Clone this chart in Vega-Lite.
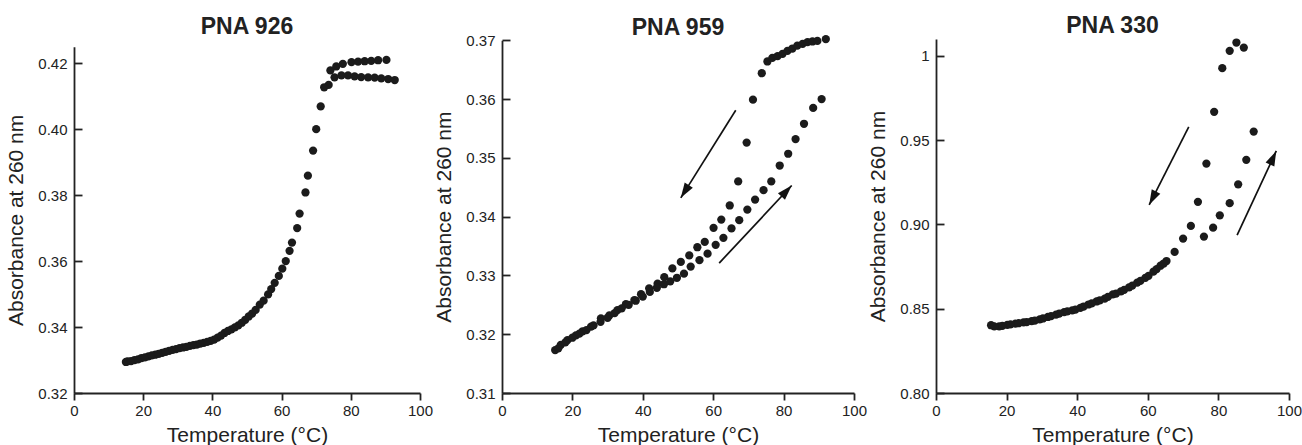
{
  "$schema": "https://vega.github.io/schema/vega-lite/v6.json",
  "background": "white",
  "padding": {"left": 5, "top": 15, "right": 5, "bottom": 5},
  "spacing": 0,
  "config": {
    "view": {"stroke": null},
    "font": "Liberation Sans",
    "style": {"guide-label": {"fontSize": 15, "font": "Liberation Sans", "fill": "#222"}},
    "axis": {
      "grid": false,
      "domainColor": "#222",
      "domainWidth": 1.8,
      "tickColor": "#222",
      "tickWidth": 1.8,
      "labelFont": "Liberation Sans",
      "labelFontSize": 15,
      "labelColor": "#222",
      "titleFont": "Liberation Sans",
      "titleFontSize": 21,
      "titleFontWeight": "normal",
      "titleColor": "#222"
    },
    "axisX": {"tickSize": 7, "labelPadding": 3, "titlePadding": 6, "labelFlush": false, "labelFontSize": 15},
    "axisY": {"tickSize": -8, "labelPadding": 15, "titlePadding": 11, "labelFontSize": 15},
    "title": {"font": "Liberation Sans", "fontSize": 23, "fontWeight": "bold", "color": "#222", "frame": "group", "baseline": "alphabetic", "dy": 8}
  },
  "datasets": {
    "p926": [
      {"T": 15.5, "A": 0.3296, "run": "a"}, {"T": 17.5, "A": 0.3300, "run": "a"}, {"T": 19.5, "A": 0.3306, "run": "a"},
      {"T": 21.5, "A": 0.3311, "run": "a"}, {"T": 23.5, "A": 0.3316, "run": "a"}, {"T": 25.5, "A": 0.3322, "run": "a"},
      {"T": 27.5, "A": 0.3328, "run": "a"}, {"T": 29.5, "A": 0.3333, "run": "a"}, {"T": 31.5, "A": 0.3338, "run": "a"},
      {"T": 33.5, "A": 0.3343, "run": "a"}, {"T": 35.5, "A": 0.3347, "run": "a"}, {"T": 37.5, "A": 0.3352, "run": "a"},
      {"T": 39.5, "A": 0.3358, "run": "a"}, {"T": 41.5, "A": 0.3368, "run": "a"}, {"T": 43.5, "A": 0.3382, "run": "a"},
      {"T": 45.5, "A": 0.3393, "run": "a"}, {"T": 47.5, "A": 0.3405, "run": "a"}, {"T": 49.5, "A": 0.3422, "run": "a"},
      {"T": 51.5, "A": 0.3441, "run": "a"}, {"T": 53.7, "A": 0.3468, "run": "a"}, {"T": 56.1, "A": 0.3499, "run": "a"},
      {"T": 58.0, "A": 0.3534, "run": "a"}, {"T": 60.2, "A": 0.3577, "run": "a"}, {"T": 62.3, "A": 0.3631, "run": "a"},
      {"T": 64.5, "A": 0.3700, "run": "a"}, {"T": 66.9, "A": 0.3808, "run": "a"}, {"T": 69.1, "A": 0.3935, "run": "a"},
      {"T": 71.3, "A": 0.4069, "run": "a"}, {"T": 73.6, "A": 0.4134, "run": "a"}, {"T": 75.3, "A": 0.4157, "run": "a"},
      {"T": 77.3, "A": 0.4163, "run": "a"}, {"T": 79.2, "A": 0.4163, "run": "a"}, {"T": 81.1, "A": 0.4160, "run": "a"},
      {"T": 83.0, "A": 0.4158, "run": "a"}, {"T": 85.0, "A": 0.4157, "run": "a"}, {"T": 86.9, "A": 0.4156, "run": "a"},
      {"T": 88.8, "A": 0.4154, "run": "a"}, {"T": 90.8, "A": 0.4152, "run": "a"}, {"T": 92.7, "A": 0.4149, "run": "a"},
      {"T": 15.0, "A": 0.3294, "run": "b"}, {"T": 16.5, "A": 0.3297, "run": "b"}, {"T": 18.5, "A": 0.3302, "run": "b"},
      {"T": 20.5, "A": 0.3308, "run": "b"}, {"T": 22.5, "A": 0.3314, "run": "b"}, {"T": 24.5, "A": 0.3319, "run": "b"},
      {"T": 26.5, "A": 0.3325, "run": "b"}, {"T": 28.5, "A": 0.3331, "run": "b"}, {"T": 30.5, "A": 0.3336, "run": "b"},
      {"T": 32.5, "A": 0.3340, "run": "b"}, {"T": 34.5, "A": 0.3345, "run": "b"}, {"T": 36.5, "A": 0.3350, "run": "b"},
      {"T": 38.5, "A": 0.3355, "run": "b"}, {"T": 40.5, "A": 0.3362, "run": "b"}, {"T": 42.5, "A": 0.3374, "run": "b"},
      {"T": 44.5, "A": 0.3388, "run": "b"}, {"T": 46.5, "A": 0.3399, "run": "b"}, {"T": 48.5, "A": 0.3413, "run": "b"},
      {"T": 50.5, "A": 0.3432, "run": "b"}, {"T": 52.5, "A": 0.3452, "run": "b"}, {"T": 54.8, "A": 0.3480, "run": "b"},
      {"T": 57.0, "A": 0.3515, "run": "b"}, {"T": 59.2, "A": 0.3555, "run": "b"}, {"T": 61.2, "A": 0.3600, "run": "b"},
      {"T": 63.0, "A": 0.3656, "run": "b"}, {"T": 65.2, "A": 0.3744, "run": "b"}, {"T": 67.6, "A": 0.3859, "run": "b"},
      {"T": 70.0, "A": 0.4000, "run": "b"}, {"T": 72.3, "A": 0.4127, "run": "b"}, {"T": 74.1, "A": 0.4178, "run": "b"},
      {"T": 75.8, "A": 0.4190, "run": "b"}, {"T": 77.7, "A": 0.4198, "run": "b"}, {"T": 80.2, "A": 0.4203, "run": "b"},
      {"T": 82.1, "A": 0.4205, "run": "b"}, {"T": 84.0, "A": 0.4206, "run": "b"}, {"T": 85.9, "A": 0.4207, "run": "b"},
      {"T": 87.9, "A": 0.4209, "run": "b"}, {"T": 90.3, "A": 0.4210, "run": "b"}
    ],
    "p959": [
      {"T": 15.1, "A": 0.3173, "run": "cool"}, {"T": 16.7, "A": 0.3182, "run": "cool"}, {"T": 18.6, "A": 0.3190, "run": "cool"},
      {"T": 21.0, "A": 0.3198, "run": "cool"}, {"T": 22.9, "A": 0.3205, "run": "cool"}, {"T": 25.3, "A": 0.3213, "run": "cool"},
      {"T": 28.1, "A": 0.3227, "run": "cool"}, {"T": 30.5, "A": 0.3232, "run": "cool"}, {"T": 32.8, "A": 0.3241, "run": "cool"},
      {"T": 35.2, "A": 0.3251, "run": "cool"}, {"T": 37.6, "A": 0.3258, "run": "cool"}, {"T": 39.5, "A": 0.3268, "run": "cool"},
      {"T": 41.8, "A": 0.3278, "run": "cool"}, {"T": 44.2, "A": 0.3286, "run": "cool"}, {"T": 46.1, "A": 0.3297, "run": "cool"},
      {"T": 48.4, "A": 0.3312, "run": "cool"}, {"T": 50.8, "A": 0.3323, "run": "cool"}, {"T": 53.2, "A": 0.3334, "run": "cool"},
      {"T": 55.5, "A": 0.3348, "run": "cool"}, {"T": 57.6, "A": 0.3357, "run": "cool"}, {"T": 60.1, "A": 0.3381, "run": "cool"},
      {"T": 62.3, "A": 0.3395, "run": "cool"}, {"T": 64.7, "A": 0.3419, "run": "cool"}, {"T": 67.1, "A": 0.3460, "run": "cool"},
      {"T": 69.5, "A": 0.3526, "run": "cool"}, {"T": 71.3, "A": 0.3599, "run": "cool"}, {"T": 73.8, "A": 0.3644, "run": "cool"},
      {"T": 75.4, "A": 0.3664, "run": "cool"}, {"T": 76.8, "A": 0.3670, "run": "cool"}, {"T": 78.3, "A": 0.3673, "run": "cool"},
      {"T": 79.7, "A": 0.3677, "run": "cool"}, {"T": 81.1, "A": 0.3682, "run": "cool"}, {"T": 82.5, "A": 0.3686, "run": "cool"},
      {"T": 83.9, "A": 0.3691, "run": "cool"}, {"T": 85.4, "A": 0.3694, "run": "cool"}, {"T": 86.8, "A": 0.3697, "run": "cool"},
      {"T": 88.2, "A": 0.3698, "run": "cool"}, {"T": 89.6, "A": 0.3699, "run": "cool"}, {"T": 92.0, "A": 0.3702, "run": "cool"},
      {"T": 16.0, "A": 0.3176, "run": "heat"}, {"T": 18.0, "A": 0.3186, "run": "heat"}, {"T": 20.0, "A": 0.3194, "run": "heat"},
      {"T": 22.0, "A": 0.3201, "run": "heat"}, {"T": 24.0, "A": 0.3207, "run": "heat"}, {"T": 26.0, "A": 0.3215, "run": "heat"},
      {"T": 28.0, "A": 0.3221, "run": "heat"}, {"T": 30.0, "A": 0.3228, "run": "heat"}, {"T": 32.0, "A": 0.3236, "run": "heat"},
      {"T": 34.0, "A": 0.3244, "run": "heat"}, {"T": 36.0, "A": 0.3250, "run": "heat"}, {"T": 38.0, "A": 0.3257, "run": "heat"},
      {"T": 40.0, "A": 0.3264, "run": "heat"}, {"T": 42.0, "A": 0.3272, "run": "heat"}, {"T": 44.0, "A": 0.3279, "run": "heat"},
      {"T": 46.0, "A": 0.3285, "run": "heat"}, {"T": 47.8, "A": 0.3290, "run": "heat"}, {"T": 49.7, "A": 0.3296, "run": "heat"},
      {"T": 51.7, "A": 0.3303, "run": "heat"}, {"T": 53.6, "A": 0.3315, "run": "heat"}, {"T": 56.1, "A": 0.3326, "run": "heat"},
      {"T": 58.4, "A": 0.3337, "run": "heat"}, {"T": 60.7, "A": 0.3352, "run": "heat"}, {"T": 62.9, "A": 0.3364, "run": "heat"},
      {"T": 65.2, "A": 0.3380, "run": "heat"}, {"T": 67.4, "A": 0.3394, "run": "heat"}, {"T": 69.7, "A": 0.3412, "run": "heat"},
      {"T": 71.9, "A": 0.3429, "run": "heat"}, {"T": 74.3, "A": 0.3445, "run": "heat"}, {"T": 76.5, "A": 0.3460, "run": "heat"},
      {"T": 78.9, "A": 0.3487, "run": "heat"}, {"T": 81.3, "A": 0.3507, "run": "heat"}, {"T": 83.4, "A": 0.3532, "run": "heat"},
      {"T": 85.8, "A": 0.3558, "run": "heat"}, {"T": 88.4, "A": 0.3585, "run": "heat"}, {"T": 90.8, "A": 0.3600, "run": "heat"}
    ],
    "p330": [
      {"T": 15.6, "A": 0.8402, "run": "cool"}, {"T": 17.9, "A": 0.8395, "run": "cool"}, {"T": 20.2, "A": 0.8404, "run": "cool"},
      {"T": 22.5, "A": 0.8412, "run": "cool"}, {"T": 24.8, "A": 0.8419, "run": "cool"}, {"T": 27.1, "A": 0.8426, "run": "cool"},
      {"T": 29.4, "A": 0.8437, "run": "cool"}, {"T": 31.7, "A": 0.8451, "run": "cool"}, {"T": 34.0, "A": 0.8465, "run": "cool"},
      {"T": 36.3, "A": 0.8480, "run": "cool"}, {"T": 38.6, "A": 0.8490, "run": "cool"}, {"T": 40.9, "A": 0.8505, "run": "cool"},
      {"T": 43.2, "A": 0.8525, "run": "cool"}, {"T": 45.5, "A": 0.8543, "run": "cool"}, {"T": 47.8, "A": 0.8560, "run": "cool"},
      {"T": 50.1, "A": 0.8585, "run": "cool"}, {"T": 52.4, "A": 0.8603, "run": "cool"}, {"T": 54.7, "A": 0.8627, "run": "cool"},
      {"T": 57.0, "A": 0.8655, "run": "cool"}, {"T": 59.3, "A": 0.8683, "run": "cool"}, {"T": 61.6, "A": 0.8720, "run": "cool"},
      {"T": 63.6, "A": 0.8755, "run": "cool"}, {"T": 65.3, "A": 0.8783, "run": "cool"}, {"T": 67.6, "A": 0.8837, "run": "cool"},
      {"T": 70.0, "A": 0.8916, "run": "cool"}, {"T": 72.2, "A": 0.8991, "run": "cool"}, {"T": 74.2, "A": 0.9134, "run": "cool"},
      {"T": 76.6, "A": 0.9361, "run": "cool"}, {"T": 78.8, "A": 0.9668, "run": "cool"}, {"T": 81.1, "A": 0.9927, "run": "cool"},
      {"T": 83.2, "A": 1.0030, "run": "cool"}, {"T": 85.1, "A": 1.0079, "run": "cool"}, {"T": 87.2, "A": 1.0049, "run": "cool"},
      {"T": 16.5, "A": 0.8395, "run": "heat"}, {"T": 18.8, "A": 0.8398, "run": "heat"}, {"T": 21.1, "A": 0.8407, "run": "heat"},
      {"T": 23.4, "A": 0.8414, "run": "heat"}, {"T": 25.7, "A": 0.8421, "run": "heat"}, {"T": 28.0, "A": 0.8430, "run": "heat"},
      {"T": 30.3, "A": 0.8442, "run": "heat"}, {"T": 32.6, "A": 0.8456, "run": "heat"}, {"T": 34.9, "A": 0.8471, "run": "heat"},
      {"T": 37.2, "A": 0.8484, "run": "heat"}, {"T": 39.5, "A": 0.8495, "run": "heat"}, {"T": 41.8, "A": 0.8513, "run": "heat"},
      {"T": 44.1, "A": 0.8532, "run": "heat"}, {"T": 46.4, "A": 0.8550, "run": "heat"}, {"T": 48.7, "A": 0.8570, "run": "heat"},
      {"T": 51.0, "A": 0.8590, "run": "heat"}, {"T": 53.3, "A": 0.8612, "run": "heat"}, {"T": 55.6, "A": 0.8637, "run": "heat"},
      {"T": 57.9, "A": 0.8665, "run": "heat"}, {"T": 60.2, "A": 0.8695, "run": "heat"}, {"T": 62.5, "A": 0.8735, "run": "heat"},
      {"T": 64.5, "A": 0.8768, "run": "heat"}, {"T": 75.9, "A": 0.8928, "run": "heat"}, {"T": 78.5, "A": 0.8981, "run": "heat"},
      {"T": 80.4, "A": 0.9054, "run": "heat"}, {"T": 83.2, "A": 0.9126, "run": "heat"}, {"T": 85.6, "A": 0.9238, "run": "heat"},
      {"T": 87.9, "A": 0.9383, "run": "heat"}, {"T": 90.0, "A": 0.9551, "run": "heat"}
    ],
    "arrows959": [
      {"T": 66.4, "A": 0.3581, "T2": 50.8, "A2": 0.3432, "dir": "cool"},
      {"T": 61.7, "A": 0.3321, "T2": 82.3, "A2": 0.3453, "dir": "heat"}
    ],
    "arrows330": [
      {"T": 71.6, "A": 0.9579, "T2": 60.4, "A2": 0.9116, "dir": "cool"},
      {"T": 85.3, "A": 0.8936, "T2": 96.4, "A2": 0.9436, "dir": "heat"}
    ]
  },
  "hconcat": [
    {
      "width": 346,
      "height": 354,
      "title": {"text": "PNA 926", "offset": 8},
      "data": {"name": "p926"},
      "mark": {"type": "circle", "size": 68, "color": "#1b1b1b", "opacity": 1},
      "encoding": {
        "x": {"field": "T", "type": "quantitative", "title": "Temperature (°C)",
              "scale": {"domain": [0, 100], "nice": false, "zero": false},
              "axis": {"values": [0, 20, 40, 60, 80, 100], "labelFontSize": 15}},
        "y": {"field": "A", "type": "quantitative", "title": "Absorbance at 260 nm",
              "scale": {"domain": [0.32, 0.425], "nice": false, "zero": false, "range": [354, 7.7]},
              "axis": {"values": [0.32, 0.34, 0.36, 0.38, 0.40, 0.42], "format": ".2f", "labelFontSize": 15}}
      }
    },
    {
      "width": 352,
      "height": 354,
      "title": {"text": "PNA 959", "offset": 1},
      "layer": [
        {
          "data": {"name": "p959"},
          "mark": {"type": "circle", "size": 68, "color": "#1b1b1b", "opacity": 1},
          "encoding": {
            "x": {"field": "T", "type": "quantitative", "title": "Temperature (°C)",
                  "scale": {"domain": [0, 100], "nice": false, "zero": false},
                  "axis": {"values": [0, 20, 40, 60, 80, 100], "labelFontSize": 15}},
            "y": {"field": "A", "type": "quantitative", "title": "Absorbance at 260 nm",
                  "scale": {"domain": [0.31, 0.37], "nice": false, "zero": false, "range": [354, 1.3]},
                  "axis": {"values": [0.31, 0.32, 0.33, 0.34, 0.35, 0.36, 0.37], "format": ".2f", "labelFontSize": 15}}
          }
        },
        {
          "data": {"name": "arrows959"},
          "mark": {"type": "rule", "color": "#111", "strokeWidth": 1.7},
          "encoding": {
            "x": {"field": "T", "type": "quantitative", "title": "Temperature (°C)"},
            "y": {"field": "A", "type": "quantitative", "title": "Absorbance at 260 nm"},
            "x2": {"field": "T2"},
            "y2": {"field": "A2"}
          }
        },
        {
          "data": {"name": "arrows959"},
          "transform": [{"filter": "datum.dir == 'cool'"}],
          "mark": {"type": "point", "shape": "M0,0L0.32,1L-0.32,1Z", "filled": true, "color": "#111", "opacity": 1, "size": 900, "angle": 212},
          "encoding": {
            "x": {"field": "T2", "type": "quantitative", "title": "Temperature (°C)"},
            "y": {"field": "A2", "type": "quantitative", "title": "Absorbance at 260 nm"}
          }
        },
        {
          "data": {"name": "arrows959"},
          "transform": [{"filter": "datum.dir == 'heat'"}],
          "mark": {"type": "point", "shape": "M0,0L0.32,1L-0.32,1Z", "filled": true, "color": "#111", "opacity": 1, "size": 900, "angle": 43},
          "encoding": {
            "x": {"field": "T2", "type": "quantitative", "title": "Temperature (°C)"},
            "y": {"field": "A2", "type": "quantitative", "title": "Absorbance at 260 nm"}
          }
        }
      ]
    },
    {
      "width": 353,
      "height": 354,
      "title": {"text": "PNA 330", "offset": 8},
      "layer": [
        {
          "data": {"name": "p330"},
          "mark": {"type": "circle", "size": 68, "color": "#1b1b1b", "opacity": 1},
          "encoding": {
            "x": {"field": "T", "type": "quantitative", "title": "Temperature (°C)",
                  "scale": {"domain": [0, 100], "nice": false, "zero": false},
                  "axis": {"values": [0, 20, 40, 60, 80, 100], "labelFontSize": 15}},
            "y": {"field": "A", "type": "quantitative", "title": "Absorbance at 260 nm",
                  "scale": {"domain": [0.80, 1.01], "nice": false, "zero": false},
                  "axis": {"values": [0.80, 0.85, 0.90, 0.95, 1.0], "labelFontSize": 15, "labelExpr": "datum.value == 1 ? '1' : format(datum.value, '.2f')"}}
          }
        },
        {
          "data": {"name": "arrows330"},
          "mark": {"type": "rule", "color": "#111", "strokeWidth": 1.7},
          "encoding": {
            "x": {"field": "T", "type": "quantitative", "title": "Temperature (°C)"},
            "y": {"field": "A", "type": "quantitative", "title": "Absorbance at 260 nm"},
            "x2": {"field": "T2"},
            "y2": {"field": "A2"}
          }
        },
        {
          "data": {"name": "arrows330"},
          "transform": [{"filter": "datum.dir == 'cool'"}],
          "mark": {"type": "point", "shape": "M0,0L0.32,1L-0.32,1Z", "filled": true, "color": "#111", "opacity": 1, "size": 900, "angle": 207},
          "encoding": {
            "x": {"field": "T2", "type": "quantitative", "title": "Temperature (°C)"},
            "y": {"field": "A2", "type": "quantitative", "title": "Absorbance at 260 nm"}
          }
        },
        {
          "data": {"name": "arrows330"},
          "transform": [{"filter": "datum.dir == 'heat'"}],
          "mark": {"type": "point", "shape": "M0,0L0.32,1L-0.32,1Z", "filled": true, "color": "#111", "opacity": 1, "size": 900, "angle": 25},
          "encoding": {
            "x": {"field": "T2", "type": "quantitative", "title": "Temperature (°C)"},
            "y": {"field": "A2", "type": "quantitative", "title": "Absorbance at 260 nm"}
          }
        }
      ]
    }
  ]
}
